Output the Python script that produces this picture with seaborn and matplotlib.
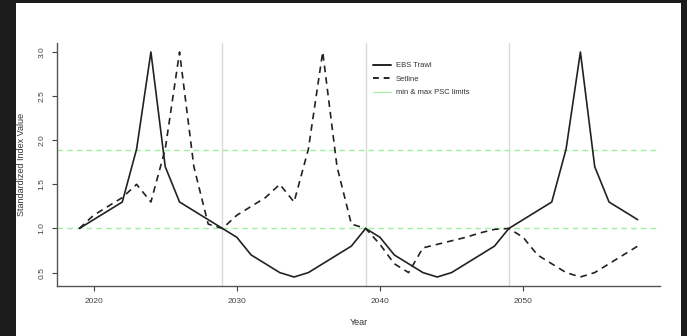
import matplotlib
matplotlib.use("Agg")
import matplotlib.pyplot as plt
import seaborn as sns
import pandas as pd
from matplotlib.lines import Line2D
from matplotlib.patches import Rectangle

# values
years = list(range(2019, 2059))
trawl = [1.0, 1.1, 1.2, 1.3, 1.9, 3.0, 1.7, 1.3, 1.2, 1.1,
         1.0, 0.9, 0.7, 0.6, 0.5, 0.45, 0.5, 0.6, 0.7, 0.8,
         1.0, 0.9, 0.7, 0.6, 0.5, 0.45, 0.5, 0.6, 0.7, 0.8,
         1.0, 1.1, 1.2, 1.3, 1.9, 3.0, 1.7, 1.3, 1.2, 1.1]
setline = [1.0, 1.15, 1.25, 1.35, 1.5, 1.3, 1.9, 3.0, 1.7, 1.05,
           1.0, 1.15, 1.25, 1.35, 1.5, 1.3, 1.9, 3.0, 1.7, 1.05,
           1.0, 0.82, 0.6, 0.5, 0.78, 0.82, 0.86, 0.9, 0.95, 0.99,
           1.0, 0.9, 0.7, 0.6, 0.5, 0.45, 0.5, 0.6, 0.7, 0.8]
psc_limits = [1.0, 1.89]
cycle_years = [2029, 2039, 2049]
x_ticks = [2020, 2030, 2040, 2050]
y_ticks = [0.5, 1.0, 1.5, 2.0, 2.5, 3.0]

df = pd.DataFrame({"Year": years, "EBS Trawl": trawl, "Setline": setline})

sns.set_style("ticks")
plt.rcParams["font.family"] = ["Liberation Sans", "DejaVu Sans"]

W, H = 687, 336
fig = plt.figure(figsize=(W / 100, H / 100), dpi=100, facecolor="#1b1b1b")
fig.patches.append(Rectangle((16 / W, 0), (681 - 16) / W, (H - 3) / H,
                             transform=fig.transFigure, facecolor="white",
                             edgecolor="none", zorder=-10))
ax = fig.add_axes([57 / W, 1 - 286 / H, (660 - 57) / W, (286 - 43) / H])
ax.set_facecolor("none")

for yr in cycle_years:
    ax.axvline(yr, color="#d9d9d9", lw=1.0, zorder=1)
for lim in psc_limits:
    ax.axhline(lim, color="#9ef09e", lw=1.0, ls=(0, (4, 3)), zorder=1)

sns.lineplot(data=df, x="Year", y="EBS Trawl", ax=ax, color="#222222", lw=1.2, zorder=3)
sns.lineplot(data=df, x="Year", y="Setline", ax=ax, color="#222222", lw=1.2,
             linestyle=(0, (4, 3)), zorder=3)

ax.set_xlim(2017.44, 2059.56)
ax.set_ylim(0.348, 3.102)
ax.set_xticks(x_ticks)
ax.set_yticks(y_ticks)
ax.set_yticklabels([f"{v:.1f}" for v in y_ticks], rotation=90, va="center")
ax.tick_params(axis="both", labelsize=6, colors="#444444", length=3.6, width=0.8)
ax.tick_params(axis="x", pad=5)
ax.tick_params(axis="y", pad=4.5)
for side in ["top", "right"]:
    ax.spines[side].set_visible(False)
for side in ["left", "bottom"]:
    ax.spines[side].set_color("#555555")
    ax.spines[side].set_linewidth(1.0)

ax.set_xlabel("Year", fontsize=6.5, color="#333333")
ax.set_ylabel("Standardized Index Value", fontsize=6.5, color="#333333")
ax.xaxis.set_label_coords(0.5, -0.132)
ax.yaxis.set_label_coords(-0.052, 0.5)

handles = [Line2D([], [], color="#222222", lw=1.4),
           Line2D([], [], color="#222222", lw=1.4, ls=(0, (3, 2.5))),
           Line2D([], [], color="#9ef09e", lw=0.8)]
ax.legend(handles, ["EBS Trawl", "Setline", "min & max PSC limits"],
          loc="upper left", bbox_to_anchor=(0.512, 0.95), frameon=False,
          fontsize=5.5, handlelength=2.4, handletextpad=0.6, labelspacing=0.8,
          labelcolor="#333333")

fig.savefig("out.png", dpi=100, facecolor=fig.get_facecolor())
